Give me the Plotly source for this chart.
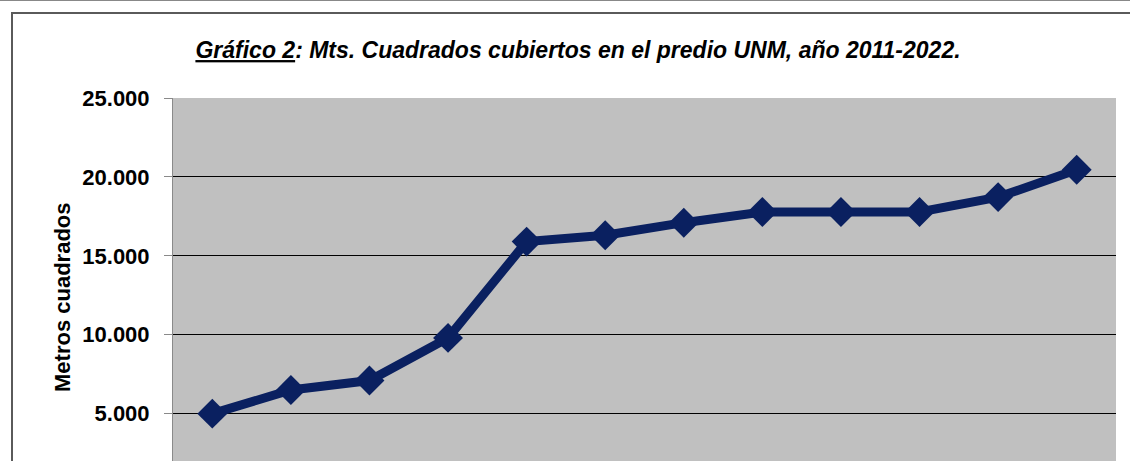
import plotly.graph_objects as go

years = ["2011", "2012", "2013", "2014", "2015", "2016", "2017", "2018", "2019", "2020", "2021", "2022"]
m2 = [5000, 6500, 7100, 9800, 15900, 16300, 17100, 17780, 17780, 17780, 18720, 20450]
tick_vals = [5000, 10000, 15000, 20000, 25000]

W, H = 1130, 461
L, R, T, B = 173, 14, 98, 0
pw, ph = W - L - R, H - T - B

def px(x):
    return (x - L) / pw

def py(y):
    return (H - y) / ph

font_fam = "Liberation Sans, Arial, sans-serif"

fig = go.Figure()
fig.add_trace(go.Scatter(
    x=years, y=m2, mode="lines+markers",
    line=dict(color="#0a2060", width=9),
    marker=dict(symbol="diamond", size=23, color="#0a2060"),
    showlegend=False, cliponaxis=False,
))

fig.update_layout(
    width=W, height=H,
    margin=dict(l=L, r=R, t=T, b=B),
    paper_bgcolor="white",
    plot_bgcolor="#c0c0c0",
    separators=",.",
    title=dict(
        text="<b><i><u>Gráfico 2</u>: Mts. Cuadrados cubiertos en el predio UNM, año 2011-2022.</i></b>",
        x=578 / W, xanchor="center",
        y=1 - 50 / H, yanchor="middle", yref="container",
        font=dict(family=font_fam, size=23, color="black"),
    ),
    xaxis=dict(
        type="category", range=[-0.5, 11.5],
        showticklabels=False, showgrid=False, zeroline=False,
        showline=False, ticks="",
    ),
    yaxis=dict(
        range=[2000, 25000],
        tickvals=tick_vals, tickformat=",d",
        showgrid=True, gridcolor="black", gridwidth=1,
        zeroline=False,
        showline=True, linecolor="#8a8a8a", linewidth=1,
        ticks="outside", ticklen=8, tickcolor="#8a8a8a",
        ticklabelstandoff=10,
        tickfont=dict(family=font_fam, size=22, color="black", weight="bold"),
    ),
    annotations=[dict(
        text="<b>Metros cuadrados</b>", textangle=-90,
        x=px(62), y=py(297), xref="paper", yref="paper",
        xanchor="center", yanchor="middle", showarrow=False,
        font=dict(family=font_fam, size=22, color="black"),
    )],
    shapes=[
        dict(type="line", xref="paper", yref="paper",
             x0=px(0), x1=px(W), y0=py(0.5), y1=py(0.5),
             line=dict(color="#888888", width=1)),
        dict(type="line", xref="paper", yref="paper",
             x0=px(11), x1=px(W), y0=py(13), y1=py(13),
             line=dict(color="#5a5a5a", width=2)),
        dict(type="line", xref="paper", yref="paper",
             x0=px(12), x1=px(12), y0=py(13), y1=py(H),
             line=dict(color="#5a5a5a", width=2)),
    ],
)

fig.write_html(
    "out.html",
    config={"displayModeBar": False},
    post_script="document.body.style.margin='0';document.body.style.overflow='hidden';",
)
